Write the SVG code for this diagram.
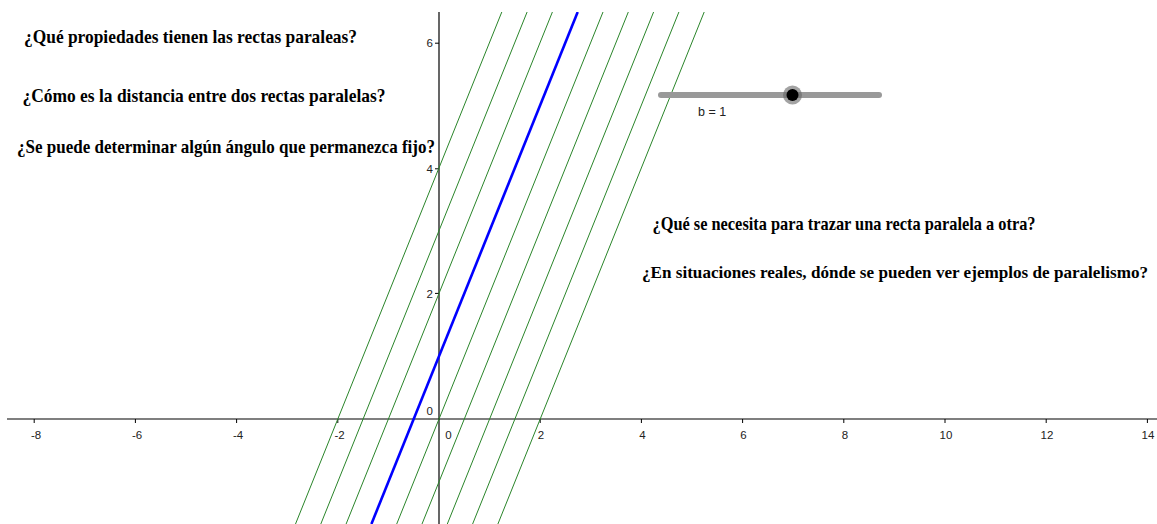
<svg xmlns="http://www.w3.org/2000/svg" width="1157" height="524" viewBox="0 0 1157 524">
  <style>
    .q { font-family: "Liberation Serif", "Times New Roman", serif; font-weight: bold; font-size: 19px; fill: #000; }
    .q5 { font-size: 16.8px; }
    .ax { font-family: "Liberation Sans", Arial, sans-serif; font-size: 11.5px; fill: #222; }
    .axis { stroke: #000; stroke-width: 1.2; fill: none; }
    .tick { stroke: #000; stroke-width: 1; }
    .g { stroke: #2a852a; stroke-width: 1; fill: none; }
    .b { stroke: #0000ff; stroke-width: 2.6; fill: none; }
  </style>
  <defs>
    <clipPath id="view"><rect x="7" y="12" width="1150" height="512"/></clipPath>
  </defs>
  <rect width="1157" height="524" fill="#fff"/>

  <g id="axes">
    <line class="axis" x1="7" y1="419" x2="1157" y2="419"/>
    <line class="axis" x1="439" y1="12" x2="439" y2="524"/>
    <g class="tick">
      <line x1="34.2" y1="419" x2="34.2" y2="423"/>
      <line x1="135.4" y1="419" x2="135.4" y2="423"/>
      <line x1="236.6" y1="419" x2="236.6" y2="423"/>
      <line x1="337.8" y1="419" x2="337.8" y2="423"/>
      <line x1="540.2" y1="419" x2="540.2" y2="423"/>
      <line x1="641.4" y1="419" x2="641.4" y2="423"/>
      <line x1="742.6" y1="419" x2="742.6" y2="423"/>
      <line x1="843.8" y1="419" x2="843.8" y2="423"/>
      <line x1="945" y1="419" x2="945" y2="423"/>
      <line x1="1046.2" y1="419" x2="1046.2" y2="423"/>
      <line x1="1147.4" y1="419" x2="1147.4" y2="423"/>
      <line x1="435" y1="43.2" x2="439" y2="43.2"/>
      <line x1="435" y1="168.8" x2="439" y2="168.8"/>
      <line x1="435" y1="293.4" x2="439" y2="293.4"/>
    </g>
    <g class="ax" text-anchor="middle">
      <text x="36" y="439">-8</text>
      <text x="137" y="439">-6</text>
      <text x="238" y="439">-4</text>
      <text x="339.5" y="439">-2</text>
      <text x="448.5" y="439">0</text>
      <text x="541" y="439">2</text>
      <text x="642.5" y="439">4</text>
      <text x="743.5" y="439">6</text>
      <text x="845" y="439">8</text>
      <text x="946" y="439">10</text>
      <text x="1047" y="439">12</text>
      <text x="1148" y="439">14</text>
    </g>
    <g class="ax" text-anchor="end">
      <text x="433" y="47">6</text>
      <text x="433" y="173">4</text>
      <text x="433" y="297.5">2</text>
      <text x="433" y="415">0</text>
    </g>
  </g>

  <g id="lines" clip-path="url(#view)">
    <line class="g" x1="501.8" y1="12" x2="295.5" y2="524"/>
    <line class="g" x1="527.1" y1="12" x2="320.8" y2="524"/>
    <line class="g" x1="552.4" y1="12" x2="346.1" y2="524"/>
    <line class="g" x1="603" y1="12" x2="396.7" y2="524"/>
    <line class="g" x1="628.3" y1="12" x2="422" y2="524"/>
    <line class="g" x1="653.6" y1="12" x2="447.3" y2="524"/>
    <line class="g" x1="678.9" y1="12" x2="472.6" y2="524"/>
    <line class="g" x1="704.2" y1="12" x2="497.9" y2="524"/>
    <line class="b" x1="577.7" y1="12" x2="371.4" y2="524"/>
  </g>

  <g id="slider">
    <line x1="661" y1="95" x2="879" y2="95" stroke="#999" stroke-width="6" stroke-linecap="round"/>
    <circle cx="792.5" cy="95" r="9.5" fill="#666" fill-opacity="0.6"/>
    <circle cx="792.5" cy="95" r="6" fill="#000"/>
    <text class="ax" x="698" y="116" style="font-size:12.5px">b = 1</text>
  </g>

  <g id="q1"><text class="q" x="24" y="43" textLength="333" lengthAdjust="spacingAndGlyphs">¿Qué propiedades tienen las rectas paraleas?</text></g>
  <g id="q2"><text class="q" x="22.5" y="102" textLength="363" lengthAdjust="spacingAndGlyphs">¿Cómo es la distancia entre dos rectas paralelas?</text></g>
  <g id="q3"><text class="q" x="17" y="153" textLength="418" lengthAdjust="spacingAndGlyphs">¿Se puede determinar algún ángulo que permanezca fijo?</text></g>
  <g id="q4"><text class="q" x="652.5" y="230" textLength="383" lengthAdjust="spacingAndGlyphs">¿Qué se necesita para trazar una recta paralela a otra?</text></g>
  <g id="q5"><text class="q q5" x="642" y="278" textLength="506" lengthAdjust="spacingAndGlyphs">¿En situaciones reales, dónde se pueden ver ejemplos de paralelismo?</text></g>
</svg>
